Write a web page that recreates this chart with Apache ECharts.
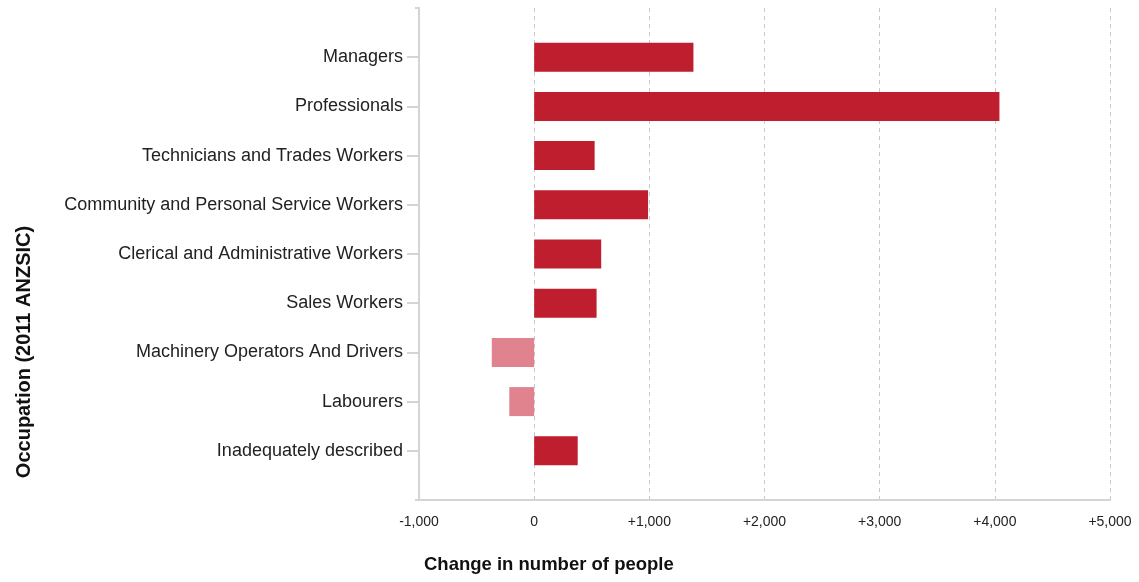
<!DOCTYPE html>
<html>
<head>
<meta charset="utf-8">
<script src="https://cdn.jsdelivr.net/npm/echarts@6/dist/echarts.min.js"></script>
<style>
  html, body { margin: 0; padding: 0; background: #fff; }
  #chart { width: 1139px; height: 582px; }
</style>
</head>
<body>
<div id="chart"></div>
<script>
// occupations, top to bottom
const occupations = [
  'Managers',
  'Professionals',
  'Technicians and Trades Workers',
  'Community and Personal Service Workers',
  'Clerical and Administrative Workers',
  'Sales Workers',
  'Machinery Operators And Drivers',
  'Labourers',
  'Inadequately described'
]
// change in number of people
const changes = [1383, 4040, 525, 989, 582, 542, -368, -216, 378]
const xTickLabels = ['-1,000', '0', '+1,000', '+2,000', '+3,000', '+4,000', '+5,000']

const posColor = '#BE1E2D'
const negColor = '#E0838F'
const lineColor = '#d4d4d4'

const chart = echarts.init(document.getElementById('chart'))

const option = {
  animation: false,
  grid: [
    // bars
    { left: 419, right: 29, top: 32.6, bottom: 106.6 },
    // axis frame (half a band of padding above and below the bars)
    { left: 419, right: 29, top: 8, bottom: 82 }
  ],
  xAxis: [
    {
      gridIndex: 0, type: 'value', min: -1000, max: 5000, interval: 1000,
      axisLine: { show: false }, axisTick: { show: false },
      axisLabel: { show: false }, splitLine: { show: false }
    },
    {
      gridIndex: 1, type: 'value', min: -1000, max: 5000, interval: 1000,
      axisLine: { show: true, onZero: false, lineStyle: { color: lineColor, width: 2 } },
      axisTick: { show: false },
      axisLabel: {
        margin: 15,
        fontSize: 14,
        fontFamily: 'Liberation Sans',
        color: '#222',
        formatter: (v) => xTickLabels[Math.round((v + 1000) / 1000)]
      },
      splitLine: { show: true, lineStyle: { color: '#c8c8c8', type: [4, 4], width: 1 } }
    }
  ],
  yAxis: [
    {
      gridIndex: 0, type: 'category', inverse: true, data: occupations,
      axisLine: { show: false, onZero: false },
      axisTick: { show: true, alignWithLabel: true, length: 12, lineStyle: { color: lineColor, width: 2 } },
      axisLabel: { margin: 16, fontSize: 18, fontFamily: 'Liberation Sans', color: '#222' }
    },
    {
      gridIndex: 1, type: 'value', min: 0, max: 1, interval: 1,
      axisLine: { show: true, onZero: false, lineStyle: { color: lineColor, width: 2 } },
      axisTick: { show: true, length: 4, lineStyle: { color: lineColor, width: 2 } },
      axisLabel: { show: false },
      splitLine: { show: false }
    }
  ],
  series: [
    {
      type: 'bar',
      xAxisIndex: 0,
      yAxisIndex: 0,
      barWidth: 29,
      data: changes.map(v => ({
        value: v,
        itemStyle: { color: v < 0 ? negColor : posColor }
      }))
    }
  ],
  graphic: [
    {
      type: 'text',
      left: 424,
      top: 555,
      style: {
        text: 'Change in number of people',
        font: 'bold 18.5px "Liberation Sans"',
        fill: '#111'
      }
    },
    {
      type: 'text',
      x: 24,
      y: 352,
      rotation: Math.PI / 2,
      style: {
        text: 'Occupation (2011 ANZSIC)',
        font: 'bold 20px "Liberation Sans"',
        fill: '#111',
        align: 'center',
        verticalAlign: 'middle'
      }
    }
  ]
}

chart.setOption(option)
</script>
</body>
</html>
